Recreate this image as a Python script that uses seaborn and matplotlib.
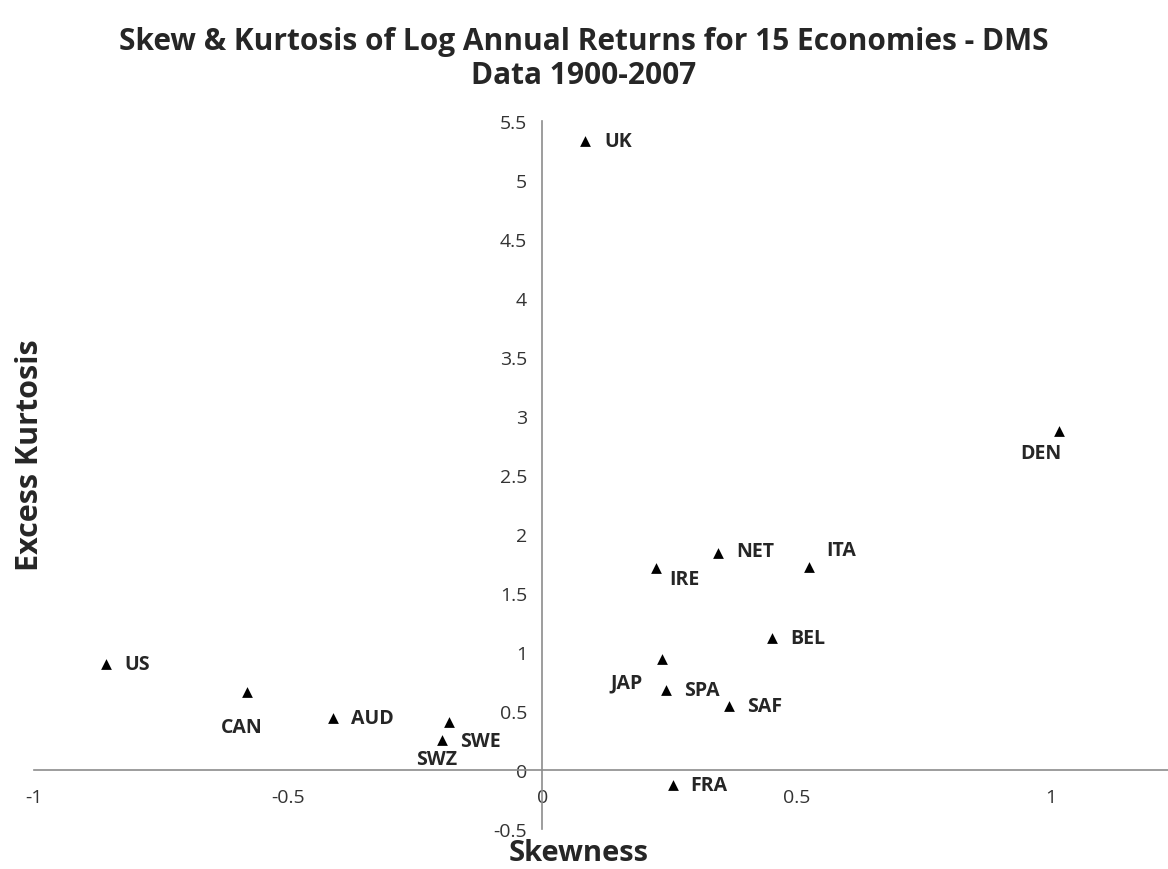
import matplotlib
matplotlib.use("Agg")
import matplotlib.pyplot as plt
import pandas as pd
import seaborn as sns

# Skewness / excess kurtosis of log annual returns, DMS data 1900-2007
countries = ["US", "CAN", "AUD", "SWE", "SWZ", "UK", "IRE", "NET",
             "ITA", "BEL", "JAP", "SPA", "SAF", "FRA", "DEN"]
skewness = [-0.858, -0.58, -0.412, -0.183, -0.197, 0.083, 0.223, 0.345,
            0.525, 0.452, 0.235, 0.244, 0.367, 0.256, 1.016]
kurtosis = [0.90, 0.66, 0.44, 0.41, 0.25, 5.33, 1.71, 1.84,
            1.72, 1.12, 0.94, 0.68, 0.54, -0.13, 2.87]

x_ticks = [-1, -0.5, 0, 0.5, 1]
y_ticks = [-0.5, 0, 0.5, 1, 1.5, 2, 2.5, 3, 3.5, 4, 4.5, 5, 5.5]

# label placement (offset in points, horizontal alignment)
label_pos = {
    "US": (13, 0, "left"), "CAN": (-4, -25, "center"), "AUD": (13, 0, "left"),
    "SWE": (8, -14, "left"), "SWZ": (-4, -13, "center"), "UK": (14, 0, "left"),
    "IRE": (10, -8, "left"), "NET": (13, 1, "left"), "ITA": (12, 12, "left"),
    "BEL": (13, 0, "left"), "JAP": (-14, -17, "right"), "SPA": (13, 0, "left"),
    "SAF": (13, 0, "left"), "FRA": (13, 0, "left"), "DEN": (-13, -16, "center"),
}

df = pd.DataFrame({"country": countries, "skew": skewness, "kurt": kurtosis})

sns.set_style("white")
plt.rcParams["font.family"] = ["Open Sans", "DejaVu Sans"]

fig = plt.figure(figsize=(11.68, 8.70), dpi=100)
ax = fig.add_axes([0.0289, 0.046, 0.9711, 0.814])

sns.scatterplot(data=df, x="skew", y="kurt", marker="^", color="black",
                s=60, edgecolor="black", linewidth=0, ax=ax, zorder=3)

for name, x, y in zip(countries, skewness, kurtosis):
    dx, dy, ha = label_pos[name]
    ax.annotate(name, (x, y), xytext=(dx, dy), textcoords="offset points",
                ha=ha, va="center", fontsize=14, fontweight="bold")

ax.set_xlim(-1, 1.23)
ax.set_ylim(-0.5, 5.5)
ax.set_xticks(x_ticks)
ax.set_xticklabels([f"{v:g}" for v in x_ticks])
ax.set_yticks(y_ticks)
ax.set_yticklabels([f"{v:g}" for v in y_ticks])

ax.spines["left"].set_position(("data", 0))
ax.spines["bottom"].set_position(("data", 0))
for side in ["top", "right"]:
    ax.spines[side].set_visible(False)
for side in ["left", "bottom"]:
    ax.spines[side].set_color("#8c8c8c")
    ax.spines[side].set_linewidth(1.2)

ax.tick_params(axis="x", length=0, pad=13, labelsize=14, labelcolor="#333333")
ax.tick_params(axis="y", length=0, pad=11, labelsize=14, labelcolor="#333333")
ax.set_xlabel("")
ax.set_ylabel("")

fig.text(0.5, 0.932, "Skew & Kurtosis of Log Annual Returns for 15 Economies - DMS\nData 1900-2007",
         ha="center", va="center", fontsize=21.5, fontweight="bold", linespacing=1.2)
fig.text(0.495, 0.019, "Skewness", ha="center", va="center", fontsize=21, fontweight="bold")
fig.text(0.026, 0.477, "Excess Kurtosis", ha="center", va="center", rotation=90,
         fontsize=22, fontweight="bold")

fig.savefig("out.png", dpi=100)
